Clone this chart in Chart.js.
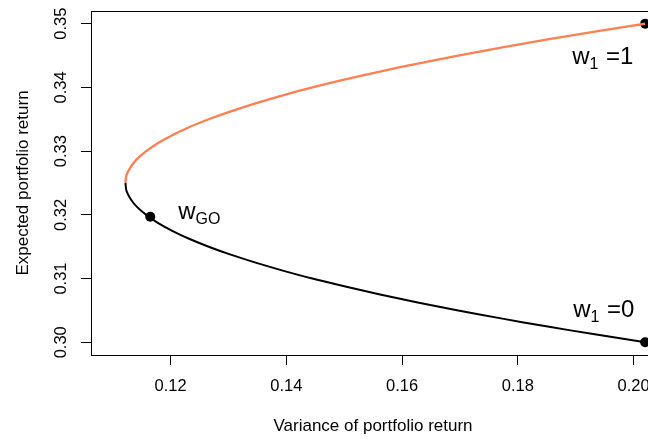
<!DOCTYPE html>
<html>
<head>
<meta charset="utf-8">
<script src="https://cdn.jsdelivr.net/npm/chart.js@4.4.1/dist/chart.umd.min.js"></script>
<style>
html, body { margin: 0; padding: 0; overflow: hidden; background: #fff; }
#wrap { width: 660px; height: 439px; position: relative; }
</style>
</head>
<body>
<div id="wrap"><canvas id="chart"></canvas></div>
<script>
// Two-asset frontier: variance vs expected return

// lower branch, from w1 = 0 up to the turning point
const lowerVar = [0.2020, 0.1933, 0.1849, 0.1771, 0.1697, 0.1627, 0.1562, 0.1502, 0.1445, 0.1394, 0.1347,
                  0.1304, 0.1266, 0.1232, 0.1203, 0.1178, 0.1158, 0.1142, 0.1131, 0.1124, 0.1122];
const lowerRet = [0.30000, 0.30125, 0.30250, 0.30375, 0.30500, 0.30625, 0.30750, 0.30875, 0.31000, 0.31125, 0.31250,
                  0.31375, 0.31500, 0.31625, 0.31750, 0.31875, 0.32000, 0.32125, 0.32250, 0.32375, 0.32500];

// upper branch, from the turning point to w1 = 1
const upperVar = [0.1122, 0.1124, 0.1131, 0.1142, 0.1158, 0.1178, 0.1203, 0.1232, 0.1266, 0.1304, 0.1347,
                  0.1394, 0.1445, 0.1502, 0.1562, 0.1627, 0.1697, 0.1771, 0.1849, 0.1933, 0.2020];
const upperRet = [0.32500, 0.32625, 0.32750, 0.32875, 0.33000, 0.33125, 0.33250, 0.33375, 0.33500, 0.33625, 0.33750,
                  0.33875, 0.34000, 0.34125, 0.34250, 0.34375, 0.34500, 0.34625, 0.34750, 0.34875, 0.35000];

// marked portfolios
const markVar = [0.2020, 0.2020, 0.1165];
const markRet = [0.3000, 0.3500, 0.3197];
const markSub = ['1', '1', 'GO'];
const markTail = [' =0', ' =1', ''];

const xTicks = [0.12, 0.14, 0.16, 0.18, 0.20];
const yTicks = [0.30, 0.31, 0.32, 0.33, 0.34, 0.35];

const FONT = '"Liberation Sans", Arial, sans-serif';
const labelOffset = [[-72, -25], [-73, 40], [28, 2]];

function pairs(xs, ys) {
    return xs.map((v, i) => ({x: v, y: ys[i]}));
}

// plot box (R style frame)
const frame = {
    id: 'frame',
    beforeDatasetsDraw(chart) {
        const {ctx, chartArea: a} = chart;
        ctx.save();
        ctx.strokeStyle = '#000';
        ctx.lineWidth = 1;
        ctx.strokeRect(a.left + 0.5, a.top + 0.5, a.right - a.left, a.bottom - a.top);
        ctx.restore();
    }
};

// w labels next to the points
const markLabels = {
    id: 'markLabels',
    afterDatasetsDraw(chart) {
        const {ctx, scales: {x, y}} = chart;
        ctx.save();
        ctx.fillStyle = '#000';
        ctx.textBaseline = 'alphabetic';
        ctx.textAlign = 'left';
        markVar.forEach((v, i) => {
            let px = x.getPixelForValue(v) + labelOffset[i][0];
            const py = y.getPixelForValue(markRet[i]) + labelOffset[i][1];
            ctx.font = '24px ' + FONT;
            ctx.fillText('w', px, py);
            px += ctx.measureText('w').width;
            ctx.font = '16px ' + FONT;
            ctx.fillText(markSub[i], px, py + 5);
            px += ctx.measureText(markSub[i]).width;
            if (markTail[i]) {
                ctx.font = '24px ' + FONT;
                ctx.fillText(markTail[i], px + 1, py);
            }
        });
        ctx.restore();
    }
};

const ctx = document.getElementById('chart');
new Chart(ctx, {
    type: 'scatter',
    data: {
        datasets: [
            {
                data: pairs(lowerVar, lowerRet),
                showLine: true,
                borderColor: '#000',
                borderWidth: 2,
                pointRadius: 0,
                tension: 0.3
            },
            {
                data: pairs(upperVar, upperRet),
                showLine: true,
                borderColor: '#FF7F50',
                borderWidth: 2.3,
                pointRadius: 0,
                tension: 0.3
            },
            {
                data: pairs(markVar, markRet),
                showLine: false,
                pointRadius: 5,
                pointBorderWidth: 0,
                pointBackgroundColor: '#000',
                clip: false
            }
        ]
    },
    options: {
        responsive: true,
        maintainAspectRatio: false,
        animation: false,
        layout: {padding: {top: 11, right: 4, left: 0, bottom: 0}},
        plugins: {legend: {display: false}, tooltip: {enabled: false}},
        scales: {
            x: {
                type: 'linear',
                min: 0.10626,
                max: 0.2037,
                afterBuildTicks: s => { s.ticks = xTicks.map(v => ({value: v})); },
                afterFit: s => { s.height = 84; s.paddingLeft = 0; s.paddingRight = 0; },
                ticks: {
                    callback: v => v.toFixed(2),
                    color: '#000',
                    font: {family: FONT, size: 16.5},
                    padding: 12,
                    maxRotation: 0
                },
                grid: {drawOnChartArea: false, drawTicks: true, tickLength: 10, color: '#000'},
                border: {display: false},
                title: {
                    display: true,
                    text: 'Variance of portfolio return',
                    color: '#000',
                    font: {family: FONT, size: 17},
                    padding: {top: 0, bottom: 2}
                }
            },
            y: {
                type: 'linear',
                min: 0.298,
                max: 0.352,
                afterBuildTicks: s => { s.ticks = yTicks.map(v => ({value: v})); },
                afterFit: s => { s.width = 91; s.paddingTop = 0; s.paddingBottom = 0; },
                ticks: {
                    callback: v => v.toFixed(2),
                    color: '#000',
                    font: {family: FONT, size: 16.5},
                    minRotation: 90,
                    maxRotation: 90,
                    crossAlign: 'center',
                    padding: 3.5
                },
                grid: {drawOnChartArea: false, drawTicks: true, tickLength: 10, color: '#000'},
                border: {display: false},
                title: {
                    display: true,
                    text: 'Expected portfolio return',
                    color: '#000',
                    font: {family: FONT, size: 17},
                    padding: {top: 13, bottom: 0}
                }
            }
        }
    },
    plugins: [frame, markLabels]
});
</script>
</body>
</html>
